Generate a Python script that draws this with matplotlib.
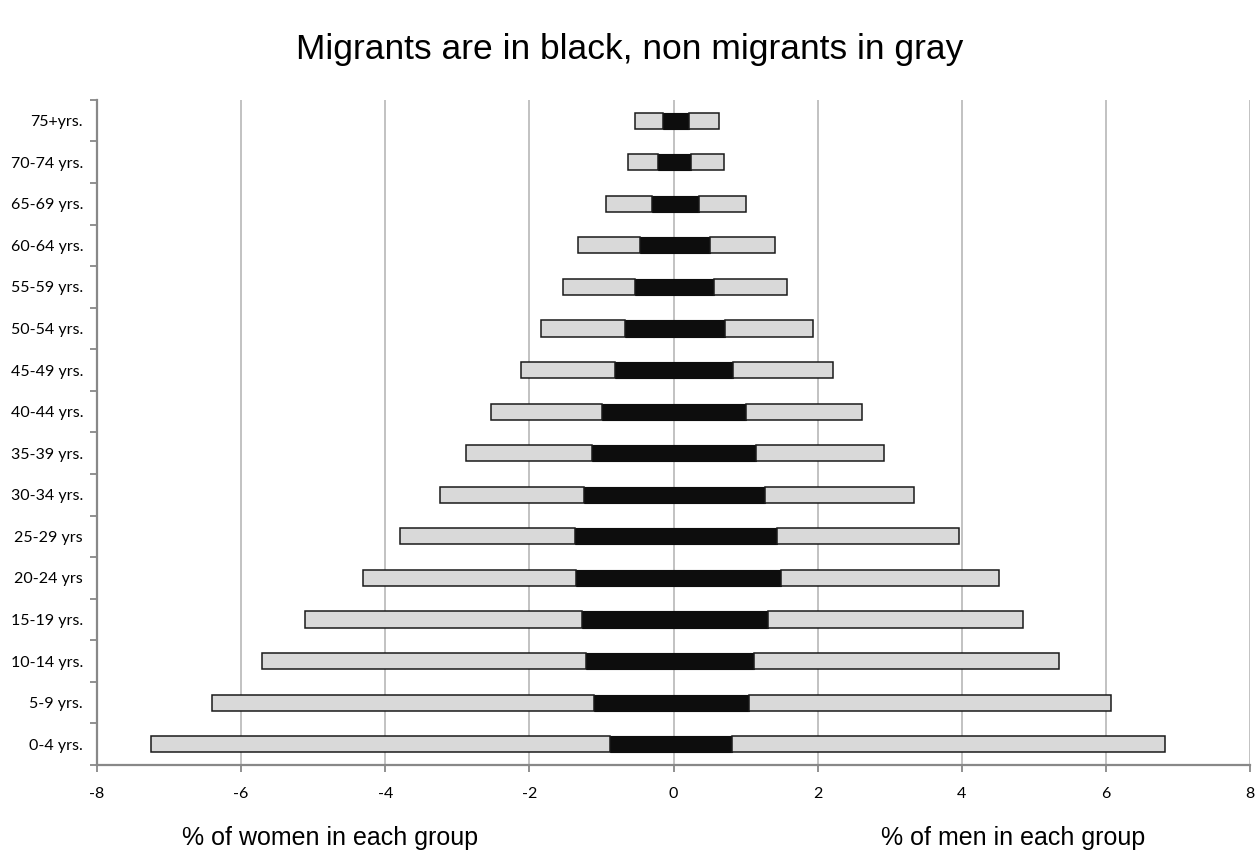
import matplotlib
matplotlib.use("Agg")
import matplotlib.pyplot as plt
import numpy as np

# Age groups, bottom to top
age_groups = ["0-4 yrs.", "5-9 yrs.", "10-14 yrs.", "15-19 yrs.", "20-24 yrs", "25-29 yrs",
              "30-34 yrs.", "35-39 yrs.", "40-44 yrs.", "45-49 yrs.", "50-54 yrs.",
              "55-59 yrs.", "60-64 yrs.", "65-69 yrs.", "70-74 yrs.", "75+yrs."]

# Percentages of the population in each group
women_migrants = [0.88, 1.10, 1.21, 1.27, 1.36, 1.365, 1.24, 1.125, 0.99, 0.81, 0.67,
                  0.54, 0.47, 0.30, 0.21, 0.15]
women_non_migrants = [6.37, 5.31, 4.50, 3.84, 2.95, 2.435, 2.00, 1.755, 1.54, 1.31, 1.17,
                      0.99, 0.85, 0.635, 0.425, 0.38]
men_migrants = [0.815, 1.045, 1.12, 1.31, 1.49, 1.44, 1.27, 1.14, 1.01, 0.82, 0.71,
                0.565, 0.51, 0.355, 0.245, 0.21]
men_non_migrants = [6.00, 5.025, 4.23, 3.54, 3.03, 2.52, 2.07, 1.78, 1.605, 1.39, 1.225,
                    1.015, 0.90, 0.65, 0.46, 0.42]

x_ticks = [-8, -6, -4, -2, 0, 2, 4, 6, 8]

fig = plt.figure(figsize=(12.59, 8.61), dpi=100)
ax = fig.add_axes([0.077, 0.1115, 0.916, 0.7725])

y = np.arange(len(age_groups))
h = 0.39
black = "#0d0d0d"
gray = "#d9d9d9"

wm = -np.array(women_migrants)
wn = -np.array(women_non_migrants)
mm = np.array(men_migrants)
mn = np.array(men_non_migrants)

# migrants in black around zero
ax.barh(y, wm, height=h, color=black, edgecolor=black, linewidth=0.8, zorder=3)
ax.barh(y, mm, height=h, color=black, edgecolor=black, linewidth=0.8, zorder=3)
# non migrants stacked outside in gray
ax.barh(y, wn, left=wm, height=h, color=gray, edgecolor="#1a1a1a", linewidth=1.1, zorder=3)
ax.barh(y, mn, left=mm, height=h, color=gray, edgecolor="#1a1a1a", linewidth=1.1, zorder=3)

ax.set_xlim(-8, 8)
ax.set_ylim(-0.5, len(age_groups) - 0.5)

ax.set_xticks(x_ticks)
ax.set_xticklabels([str(t) for t in x_ticks], fontfamily="Lato", fontsize=11.5)
ax.xaxis.grid(True, color="#bdbdbd", linewidth=1.3, zorder=0)
ax.set_axisbelow(True)

ax.set_yticks(y)
ax.set_yticklabels(age_groups, fontfamily="Lato", fontsize=11.5)
ax.set_yticks(np.arange(-0.5, len(age_groups)), minor=True)
ax.tick_params(axis="y", which="major", length=0, pad=10)
ax.tick_params(axis="y", which="minor", length=5, width=1.3, color="#888888", direction="out")
ax.tick_params(axis="x", which="major", length=5, width=1.3, color="#888888", direction="out", pad=11)

for side in ("top", "right"):
    ax.spines[side].set_visible(False)
for side in ("left", "bottom"):
    ax.spines[side].set_color("#888888")
    ax.spines[side].set_linewidth(1.6)

fig.text(0.5, 0.942, "Migrants are in black, non migrants in gray",
         fontfamily="Liberation Sans", fontsize=25.5, ha="center", va="center")
fig.text(0.262, 0.027, "% of women in each group",
         fontfamily="Liberation Sans", fontsize=18, ha="center", va="center")
fig.text(0.805, 0.027, "% of men in each group",
         fontfamily="Liberation Sans", fontsize=18, ha="center", va="center")

fig.savefig("out.png", dpi=100)
